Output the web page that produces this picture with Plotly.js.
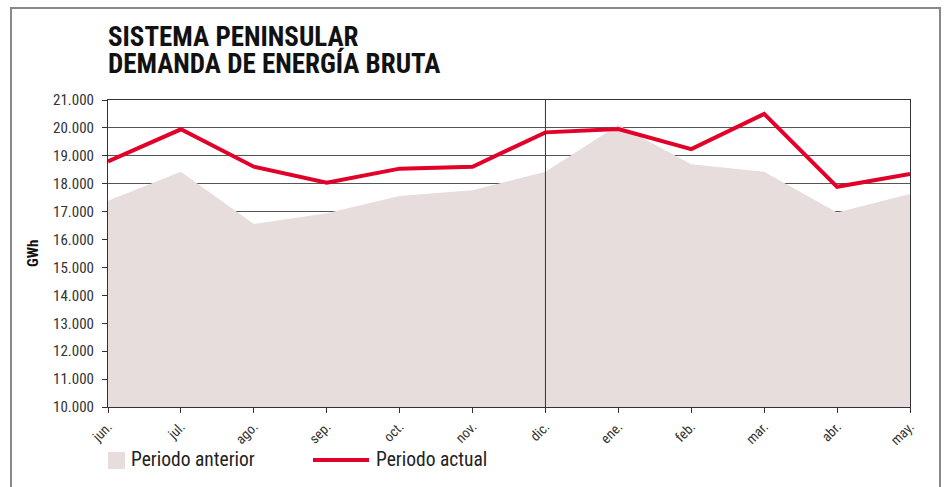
<!DOCTYPE html>
<html><head><meta charset="utf-8">
<script src="https://cdn.plot.ly/plotly-3.0.1.min.js"></script>
<style>html,body{margin:0;padding:0;background:#fff}#chart{width:944px;height:487px}</style>
</head><body><div id="chart"></div>
<script>
const months = ['jun.','jul.','ago.','sep.','oct.','nov.','dic.','ene.','feb.','mar.','abr.','may.'];
const periodoAnterior = [17390,18430,16560,16940,17560,17770,18430,20100,18700,18430,16970,17630];
const periodoActual = [18800,19950,18610,18040,18540,18610,19840,19960,19240,20500,17890,18350];
const yTicks = [10000,11000,12000,13000,14000,15000,16000,17000,18000,19000,20000,21000];

const W=944,H=487,L=108,R=34,T=100,B=80;
const pw=W-L-R, ph=H-T-B;
const px=x=>(x-L)/pw, py=y=>(H-B-y)/ph;
const FONT='"Roboto Condensed","Liberation Sans Narrow","DejaVu Sans Condensed","Arial Narrow",sans-serif';
const RED='#e2002a', AREA='#e6dddc';

const data=[
 {x:months,y:periodoAnterior,type:'scatter',mode:'lines',fill:'tozeroy',fillcolor:AREA,line:{width:0,color:AREA},name:'Periodo anterior',showlegend:false,hoverinfo:'skip'},
 {x:months,y:periodoActual,type:'scatter',mode:'lines',line:{width:4,color:RED},name:'Periodo actual',showlegend:false}
];
const layout={
 width:W,height:H,margin:{l:L,r:R,t:T,b:B},
 paper_bgcolor:'#fff',plot_bgcolor:'#fff',
 separators:',.',
 font:{family:FONT,color:'#222',size:14},
 xaxis:{type:'category',range:[0,11],showgrid:false,zeroline:false,showline:true,linecolor:'#333',linewidth:1,mirror:true,
   ticks:'outside',ticklen:5,tickcolor:'#333',tickangle:-45,tickfont:{size:14,color:'#333'}},
 yaxis:{range:[10000,21000],tickvals:yTicks,tickformat:',d',showgrid:true,gridcolor:'#555',gridwidth:1,zeroline:false,
   showline:true,linecolor:'#333',linewidth:1,mirror:true,ticks:'outside',ticklen:5,tickcolor:'#333',ticklabelstandoff:5,tickfont:{size:15,color:'#333'},layer:'below traces'},
 shapes:[
  {type:'line',xref:'x',yref:'paper',x0:'dic.',x1:'dic.',y0:0,y1:1,line:{color:'#333',width:1}},
  {type:'rect',xref:'paper',yref:'paper',x0:px(11),x1:px(940),y0:py(8),y1:py(520),line:{color:'#888',width:2},fillcolor:'rgba(0,0,0,0)',layer:'above'},
  {type:'rect',xref:'paper',yref:'paper',x0:px(108),x1:px(125),y0:py(452),y1:py(469),line:{width:0},fillcolor:AREA},
  {type:'line',xref:'paper',yref:'paper',x0:px(313),x1:px(369),y0:py(460),y1:py(460),line:{color:RED,width:4}}
 ],
 annotations:[
  {text:'<b>SISTEMA PENINSULAR</b>',xref:'paper',yref:'paper',x:px(106),y:py(37.5),showarrow:false,xanchor:'left',yanchor:'middle',align:'left',font:{size:27,color:'#111'}},
  {text:'<b>DEMANDA DE ENERGÍA BRUTA</b>',xref:'paper',yref:'paper',x:px(106),y:py(63.5),showarrow:false,xanchor:'left',yanchor:'middle',align:'left',font:{size:27,color:'#111'}},
  {text:'<b>GWh</b>',xref:'paper',yref:'paper',x:px(33),y:py(254),textangle:-90,showarrow:false,xanchor:'center',yanchor:'middle',font:{size:15,color:'#111'}},
  {text:'Periodo anterior',xref:'paper',yref:'paper',x:px(129),y:py(459),showarrow:false,xanchor:'left',yanchor:'middle',font:{size:19.5,color:'#222'}},
  {text:'Periodo actual',xref:'paper',yref:'paper',x:px(374),y:py(459),showarrow:false,xanchor:'left',yanchor:'middle',font:{size:19.5,color:'#222'}}
 ]
};
Plotly.newPlot('chart',data,layout,{displayModeBar:false,staticPlot:true});
</script></body></html>
